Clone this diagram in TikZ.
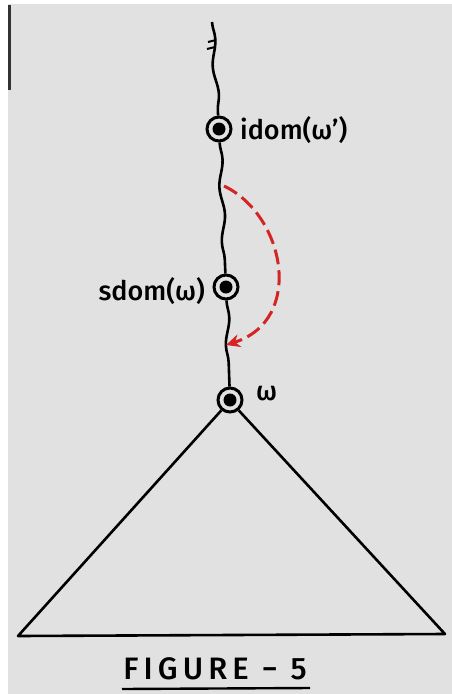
\documentclass[tikz,border=0pt]{standalone}
\usepackage{fontspec}
\setmainfont{Fira Sans Medium}
\usetikzlibrary{decorations.pathmorphing,arrows.meta}
\definecolor{bg}{HTML}{E1E1E1}
\definecolor{redarrow}{HTML}{D42424}
\begin{document}
\begin{tikzpicture}[x=1pt,y=-1pt,
  dom/.style={circle,draw,line width=3pt,minimum size=24pt,inner sep=0pt,fill=bg},
  wavy/.style={line width=2.6pt,decorate,decoration={snake,amplitude=2.2pt,segment length=55pt}},
  edge/.style={line width=2.6pt},
  lbl/.style={font=\fontsize{27}{27}\selectfont,inner sep=0pt},
  redpath/.style={redarrow,line width=3pt,dash pattern=on 15pt off 6pt,-{Stealth[length=14pt,width=13pt]}}
]
\useasboundingbox (0,0) rectangle (452,694);
\fill[bg] (0,0) rectangle (452,694);
\fill[white] (0,0) rectangle (8,694);
\fill[white] (0,0) rectangle (452,4);
\fill[black!80] (8,5) rectangle (11,90);

% nodes
\coordinate (top) at (212,22);
\node[dom] (idom) at (219,129) {};
\fill (idom) circle (6.5pt);
\node[dom] (sdom) at (226,287) {};
\fill (sdom) circle (6.5pt);
\node[dom] (w) at (230,400) {};
\fill (w) circle (6.5pt);
\coordinate (bl) at (18,636);
\coordinate (br) at (445,634);

% labels
\node[lbl,anchor=west] (lidom) at (240,130) {idom(ω')};
\node[lbl,anchor=east] (lsdom) at (205,291) {sdom(ω)};
\node[lbl,anchor=west] (lw) at (256,394) {ω};

% spine
\draw[wavy] (top) -- (idom);
\draw[line width=2pt] (208,42) -- (216,40) (207,49) -- (215,47);
\draw[wavy] (idom) -- (sdom);
\draw[wavy] (sdom) -- (w);

% triangle
\draw[edge,line join=round] (w.230) -- (bl) -- (br) -- (w.310);

% red dashed arrow
\coordinate (rs) at (224,186);
\coordinate (re) at (226,345);
\draw[redpath] (rs) .. controls (285,215) and (305,320) .. (re);

% caption
\node[font=\fontsize{31}{31}\selectfont,inner sep=0pt] (cap) at (215,669) {F\,I\,G\,U\,R\,E\, − \,5};
\coordinate (ul) at (122,689);
\coordinate (ur) at (310,688);
\draw[line width=2.4pt] (ul) -- (ur);
\end{tikzpicture}
\end{document}
